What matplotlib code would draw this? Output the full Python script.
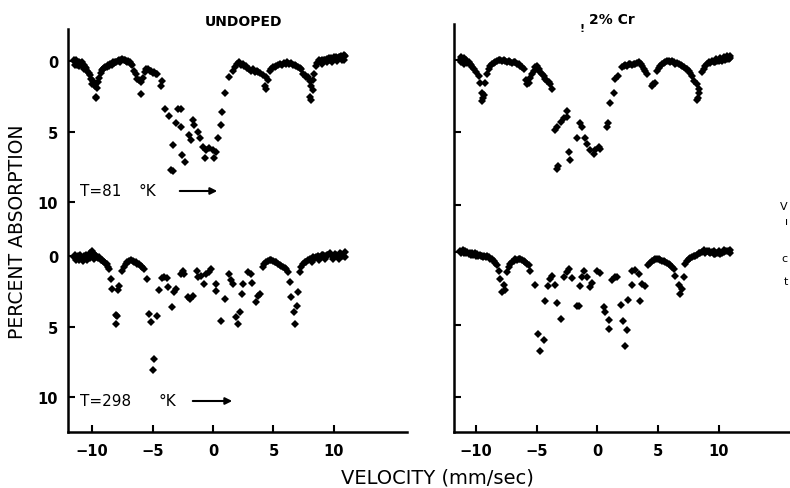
import matplotlib
matplotlib.use("Agg")
from matplotlib import pyplot as plt

# Mossbauer spectra (velocity mm/sec, percent absorption)
# undoped, T=81 K
tl_vel = [-11.5, -11.45, -11.4, -11.3, -11.25, -11.2, -11.1, -11.05, -11.0, -10.9, -10.85, -10.8, -10.7, -10.65, -10.6, -10.5, -10.4, -10.3,
          -10.2, -10.1, -10.0, -9.9, -9.8, -9.72, -9.66, -9.6, -9.5, -9.4, -9.3, -9.2, -9.1,
          -9.0, -8.9, -8.8, -8.7, -8.6, -8.5, -8.4, -8.3, -8.2, -8.1, -8.0, -7.9, -7.8, -7.7, -7.6, -7.5, -7.4, -7.3, -7.2, -7.1, -7.0, -6.9, -6.8, -6.7,
          -6.52, -6.4, -6.27, -6.1, -5.94, -6.0, -5.8, -5.65, -5.53, -5.4, -5.25, -5.11, -4.98, -4.86, -4.75, -4.61, -4.2, -4.28,
          -3.98, -3.67, -2.87, -2.65, -3.06, -2.65, -1.96, -1.82, -1.63, -1.54, -1.21, -1.07, -3.34, -2.56, -2.29, -3.48, -3.34,
          -0.85, -0.57, -0.3, -0.02, 0.26, -0.63, 0.12, 0.39, 0.67, 0.76, 1.03, 1.36,
          1.64, 1.8, 1.95, 2.13, 2.3, 2.47, 2.6, 2.74, 2.85, 3.0, 3.16, 3.3, 3.44, 3.6, 3.71, 3.9, 4.1, 4.4, 4.53, 4.27, 4.4,
          4.68, 4.82, 4.96, 5.1, 5.24, 5.4, 5.55, 5.7, 5.85, 6.0, 6.15, 6.3, 6.45, 6.6, 6.75, 6.9, 7.05, 7.18, 7.3, 7.45, 7.6, 7.72,
          7.86, 8.0, 8.13, 8.27, 8.0, 8.13, 8.27, 8.35, 8.49, 8.62, 8.76,
          8.9, 9.0, 9.05, 9.1, 9.2, 9.3, 9.4, 9.45, 9.5, 9.6, 9.7, 9.8, 9.85, 9.9, 10.0, 10.1, 10.2, 10.25, 10.3, 10.4, 10.5, 10.6, 10.65, 10.7, 10.8, 10.85, 10.9]
tl_abs = [-0.1, 0.25, 0.1, -0.05, 0.3, 0.2, 0.1, 0.35, 0.3, 0.15, 0.1, 0.35, 0.25, 0.55, 0.45, 0.5, 0.7, 0.85,
          1.0, 1.3, 1.6, 1.45, 1.75, 2.55, 2.65, 1.9, 1.5, 1.2, 0.85, 0.65, 0.55,
          0.5, 0.4, 0.45, 0.3, 0.35, 0.2, 0.25, 0.1, 0.15, 0.05, 0.1, 0.0, -0.05, 0.05, -0.1, -0.15, -0.05, -0.1, 0.0, 0.05, 0.0, 0.1, 0.2, 0.25,
          0.7, 0.95, 1.27, 1.35, 1.5, 2.37, 1.2, 0.75, 0.56, 0.6, 0.7, 0.72, 0.85, 0.77, 0.95, 0.92, 1.41, 1.76,
          3.38, 3.9, 3.38, 3.43, 4.37, 4.67, 5.26, 5.61, 4.2, 4.56, 5.02, 5.49, 5.96, 6.67, 7.14, 7.72, 7.8,
          6.08, 6.32, 6.2, 6.32, 6.43, 6.9, 6.85, 5.44, 4.56, 3.61, 2.25, 1.15,
          0.68, 0.4, 0.2, 0.09, 0.25, 0.21, 0.35, 0.33, 0.5, 0.55, 0.68, 0.6, 0.75, 0.7, 0.77, 0.85, 1.0, 1.15, 1.38, 1.74, 1.97,
          0.68, 0.55, 0.45, 0.4, 0.35, 0.3, 0.2, 0.25, 0.15, 0.2, 0.1, 0.2, 0.15, 0.25, 0.3, 0.35, 0.4, 0.5, 0.6, 0.9, 1.0, 1.1,
          1.15, 1.4, 1.79, 2.09, 2.56, 2.79, 1.38, 0.92, 0.33, 0.15, -0.05,
          0.0, -0.1, 0.2, 0.05, -0.1, -0.05, -0.15, 0.1, -0.1, -0.2, -0.1, -0.2, 0.05, -0.15, -0.25, -0.15, -0.3, 0.0, -0.2, -0.3, -0.25, -0.35, -0.05, -0.3, -0.4, -0.1, -0.35]

# undoped, T=298 K
bl_vel = [-11.5, -11.4, -11.35, -11.3, -11.2, -11.1, -11.05, -11.0, -10.9, -10.8, -10.75, -10.7, -10.6, -10.5, -10.45, -10.4, -10.3, -10.2, -10.15, -10.1, -10.0, -9.9, -9.85, -9.8, -9.7, -9.6, -9.5, -9.4, -9.3, -9.2, -9.1, -9.0, -8.9, -8.8, -8.7, -8.6,
          -8.46, -8.32, -7.77, -7.9, -8.05, -7.95, -8.0,
          -7.5, -7.36, -7.2, -7.08, -6.95, -6.8, -6.65, -6.53, -6.4, -6.25, -6.1, -5.97, -5.85, -5.7, -5.5,
          -5.28, -4.67, -5.14, -4.86, -4.95, -4.45, -4.23, -4.03, -3.84, -3.7, -3.43, -3.2, -3.07, -2.65, -2.51, -2.38, -2.1, -1.9, -1.63,
          -1.32, -1.27, -0.99, -0.71, -0.58, -0.3, -0.16, 0.26, 0.26, 0.62, 0.95, 1.31, 1.5, 1.64, 1.91, 2.05, 2.25, 2.41, 2.52, 2.88, 3.16, 3.24, 3.52, 3.71, 3.85,
          4.13, 4.25, 4.4, 4.55, 4.68, 4.82, 4.96, 5.1, 5.24, 5.38, 5.51, 5.65, 5.79, 5.93, 6.07, 6.2,
          6.34, 6.43, 6.68, 6.76, 7.04, 6.98, 7.17,
          7.31, 7.45, 7.59, 7.7, 7.85, 8.0, 8.15, 8.2, 8.3, 8.45, 8.55, 8.7, 8.8, 8.85, 9.0, 9.1, 9.25, 9.3, 9.4, 9.5, 9.66, 9.8, 9.9, 9.95, 10.1, 10.21, 10.35, 10.4, 10.5, 10.63, 10.75, 10.9, 10.9]
bl_abs = [0.1, -0.1, 0.3, 0.15, 0.0, 0.2, 0.25, -0.05, 0.1, 0.2, 0.35, 0.0, 0.15, -0.1, 0.3, 0.05, 0.1, -0.2, 0.15, -0.1, -0.35, -0.2, 0.2, -0.1, 0.0, 0.05, 0.15, 0.1, 0.25, 0.3, 0.35, 0.4, 0.5, 0.6, 0.75, 0.9,
          1.6, 2.34, 2.1, 2.4, 4.2, 4.25, 4.82,
          1.04, 0.8, 0.6, 0.45, 0.35, 0.3, 0.35, 0.4, 0.45, 0.55, 0.6, 0.7, 0.8, 0.95, 1.65,
          4.11, 4.23, 4.7, 7.31, 8.09, 2.39, 1.58, 1.51, 1.58, 2.17, 3.64, 2.58, 2.34, 1.28, 1.04, 1.28, 2.93, 3.05, 2.81,
          1.04, 1.51, 1.4, 1.99, 1.28, 1.16, 0.92, 1.99, 2.46, 4.63, 3.05, 1.28, 1.7, 1.99, 4.3, 4.82, 4.0, 2.7, 1.99, 1.16, 1.28, 1.94, 3.29, 2.81, 2.7,
          0.8, 0.6, 0.45, 0.35, 0.28, 0.3, 0.35, 0.4, 0.45, 0.55, 0.61, 0.7, 0.8, 0.85, 0.95, 1.15,
          1.87, 2.93, 4.0, 4.82, 2.58, 3.53, 1.16,
          0.8, 0.6, 0.45, 0.4, 0.3, 0.21, 0.2, 0.4, 0.1, 0.15, 0.05, 0.0, 0.3, 0.05, -0.05, -0.1, 0.0, 0.2, -0.1, -0.05, -0.2, -0.1, 0.2, 0.0, -0.15, -0.1, 0.05, 0.2, -0.2, -0.15, 0.0, -0.25, 0.1]

# 1.2% Cr, T=81 K
tr_vel = [-11.3, -11.25, -11.2, -11.1, -11.0, -10.95, -10.9, -10.8, -10.7, -10.6, -10.5, -10.4, -10.3, -10.15, -10.0,
          -9.77, -9.63, -9.5, -9.5, -9.4, -9.36, -9.22, -9.09, -8.95,
          -8.8, -8.67, -8.5, -8.39, -8.25, -8.1, -7.98, -7.85, -7.7, -7.57, -7.45, -7.3, -7.16, -7.0, -6.88, -6.75, -6.6, -6.45, -6.34, -6.2, -6.06,
          -5.9, -5.79, -5.65, -5.52, -5.4, -5.24, -5.1, -4.97, -4.83, -4.69, -4.55, -4.42, -4.3, -4.15, -4.0, -3.87, -3.73,
          -3.46, -3.32, -2.96, -2.77, -2.5, -2.5, -1.4, -1.26, -1.67, -0.99, -0.85, -0.57, -0.3, -0.16, 0.11, 0.25, -2.36, -2.22, -3.32, -3.24,
          0.79, 0.88, 1.07, 1.34, 1.48, 1.7, 2.02,
          2.15, 2.3, 2.45, 2.58, 2.71, 2.85, 3.0, 3.13, 3.27, 3.4, 3.55, 3.68, 3.82, 3.95, 4.09, 4.5, 4.6, 4.72,
          4.91, 5.05, 5.19, 5.32, 5.46, 5.6, 5.73, 5.87, 6.0, 6.14, 6.28, 6.42, 6.56, 6.7, 6.84, 6.97, 7.11, 7.25, 7.38, 7.52, 7.65, 7.79, 7.93,
          8.2, 8.39, 8.34, 8.2, 8.25, 8.61, 8.75, 8.89,
          9.0, 9.16, 9.3, 9.45, 9.6, 9.71, 9.85, 10.0, 10.13, 10.26, 10.4, 10.53, 10.67, 10.8, 10.94, 10.94, 10.7, 10.4, 10.1, 9.8]
tr_abs = [0.0, 0.15, -0.2, -0.05, -0.15, 0.25, 0.05, 0.0, 0.2, 0.15, 0.3, 0.35, 0.5, 0.65, 0.8,
          1.1, 1.56, 2.26, 2.84, 2.6, 2.4, 1.56, 0.98, 0.63,
          0.4, 0.28, 0.2, 0.12, 0.05, 0.0, -0.02, 0.1, 0.0, 0.05, 0.15, 0.1, 0.12, 0.2, 0.15, 0.16, 0.25, 0.3, 0.4, 0.5, 0.63,
          1.4, 1.68, 1.56, 1.21, 0.95, 0.75, 0.5, 0.4, 0.65, 0.86, 0.95, 1.1, 1.3, 1.44, 1.55, 1.68, 2.03,
          4.83, 4.6, 4.25, 4.02, 3.55, 3.9, 4.36, 4.6, 5.41, 5.41, 5.76, 6.23, 6.46, 6.23, 6.0, 6.11, 6.34, 6.93, 7.51, 7.28,
          4.6, 4.36, 2.96, 2.26, 1.33, 1.1, 0.51,
          0.45, 0.35, 0.4, 0.3, 0.28, 0.35, 0.3, 0.28, 0.2, 0.16, 0.3, 0.44, 0.6, 0.75, 0.98, 1.79, 1.65, 1.56,
          0.75, 0.55, 0.4, 0.3, 0.2, 0.12, 0.1, 0.05, 0.15, 0.1, 0.16, 0.25, 0.2, 0.28, 0.35, 0.4, 0.51, 0.6, 0.65, 0.75, 0.9, 1.1, 1.44,
          1.68, 2.03, 2.26, 2.73, 2.6, 0.86, 0.6, 0.4,
          0.25, 0.16, 0.2, 0.1, 0.15, 0.12, 0.05, 0.1, 0.0, 0.05, -0.05, 0.0, -0.07, -0.1, -0.12, -0.3, -0.25, -0.2, -0.15, -0.1]

# 1.2% Cr, T=298 K
br_vel = [-11.3, -11.2, -11.1, -11.0, -10.9, -10.8, -10.7, -10.6, -10.5, -10.4, -10.3, -10.2, -10.1, -10.0, -9.9, -9.8, -9.7, -9.6, -9.5, -9.4, -9.3, -9.2, -9.1, -8.95, -8.8, -8.65, -8.53, -8.4, -8.26, -8.12,
          -7.98, -7.71, -7.84, -7.57, -7.43,
          -7.3, -7.16, -7.03, -6.89, -6.75, -6.6, -6.47, -6.33, -6.2, -6.06, -5.93, -5.79, -5.65, -5.52,
          -5.1, -4.28, -4.06, -3.87, -3.73, -3.46, -3.32, -2.96, -4.88, -4.42, -4.69, -2.77, -2.5, -2.36, -2.09, -1.67, -1.48, -1.4, -1.26, -1.12,
          -0.85, -0.57, -0.44, -0.03, 0.25, 0.52, 0.61, 0.98, 0.93, 1.2, 1.48, 1.61, 1.94, 2.1, 2.44, 2.3, 2.5, 2.83, 2.83, 3.13, 3.4, 3.68, 3.9, 3.54,
          4.17, 4.3, 4.5, 4.65, 4.78, 4.91, 5.05, 5.19, 5.33, 5.46, 5.6, 5.73, 5.87, 6.0, 6.14, 6.28, 6.42,
          6.7, 6.83, 6.97, 7.1, 7.24,
          7.38, 7.52, 7.65, 7.8, 7.93, 8.07, 8.2, 8.34, 8.47, 8.61, 8.75, 8.8, 8.89, 9.02, 9.16, 9.2, 9.3, 9.43, 9.57, 9.6, 9.71, 9.85, 9.98, 10.0, 10.12, 10.26, 10.4, 10.4, 10.53, 10.67, 10.8, 10.94, 10.94]
br_abs = [-0.1, 0.1, -0.15, 0.05, -0.1, 0.1, 0.0, 0.15, 0.05, 0.2, 0.1, 0.2, 0.1, 0.25, 0.15, 0.3, 0.2, 0.3, 0.25, 0.35, 0.3, 0.35, 0.3, 0.37, 0.45, 0.5, 0.59, 0.75, 0.93, 1.28,
          1.85, 2.3, 2.76, 2.64, 1.39,
          1.0, 0.82, 0.7, 0.59, 0.5, 0.55, 0.48, 0.5, 0.55, 0.59, 0.7, 0.8, 0.93, 1.28,
          2.3, 3.37, 2.37, 1.85, 1.62, 2.3, 3.51, 4.65, 5.62, 6.07, 6.8, 1.69, 1.39, 1.16, 1.8, 3.72, 3.72, 2.37, 1.69, 1.28,
          1.73, 2.41, 2.14, 1.28, 1.46, 3.78, 4.13, 4.7, 5.33, 1.96, 1.73, 1.69, 3.67, 4.77, 5.39, 6.46, 3.28, 2.3, 1.28, 1.23, 1.5, 2.19, 2.37, 3.37,
          0.93, 0.75, 0.59, 0.55, 0.5, 0.48, 0.5, 0.55, 0.59, 0.65, 0.7, 0.75, 0.82, 0.9, 1.0, 1.16, 1.62,
          2.3, 2.87, 2.53, 1.73, 0.82,
          0.6, 0.48, 0.4, 0.35, 0.3, 0.25, 0.2, 0.1, 0.05, 0.02, -0.05, -0.15, 0.05, -0.1, 0.02, -0.1, 0.1, 0.0, 0.15, -0.05, 0.14, 0.05, 0.1, -0.05, 0.15, 0.09, 0.0, -0.15, -0.05, -0.05, -0.1, -0.14, 0.05]

x_ticks = [-10, -5, 0, 5, 10]
y_tick_labels = ["0", "5", "10", "0", "5", "10"]

W, H = 790, 489
fig = plt.figure(figsize=(W / 100, H / 100), dpi=100)
fig.patch.set_facecolor("white")

# one axes per column, the 81 K spectrum is shifted up by an offset
ax1 = fig.add_axes([68 / W, 1 - 433 / H, 339 / W, 403 / H])
ax2 = fig.add_axes([454 / W, 1 - 433 / H, 350 / W, 408 / H])

off1 = 13.83
off2 = 13.24

for ax, off, ylim, top_v, top_a, bot_v, bot_a in [
        (ax1, off1, (12.48, -16.1), tl_vel, tl_abs, bl_vel, bl_abs),
        (ax2, off2, (12.41, -15.72), tr_vel, tr_abs, br_vel, br_abs)]:
    ax.plot(top_v, [a - off for a in top_a], "D", color="black", ms=3.7, mew=0)
    ax.plot(bot_v, bot_a, "D", color="black", ms=3.7, mew=0)
    ax.set_ylim(*ylim)
    ax.set_yticks([-off, 5 - off, 10 - off, 0, 5, 10])
    ax.set_xticks(x_ticks)
    for s in ["top", "right"]:
        ax.spines[s].set_visible(False)
    for s in ["left", "bottom"]:
        ax.spines[s].set_linewidth(1.8)
    ax.tick_params(direction="in", length=5, width=1.5, labelsize=10.5)
    ax.tick_params(axis="x", pad=8)
    for lab in ax.get_xticklabels():
        lab.set_fontweight("bold")

ax1.set_xlim(-12.0, 16.05)
ax2.set_xlim(-11.8, 17.0)
ax1.set_yticklabels(y_tick_labels, fontweight="bold")
ax1.tick_params(axis="y", pad=7)
ax2.set_yticklabels([])

fig.text(244 / W, 1 - 22 / H, "UNDOPED", ha="center", va="center", fontsize=10, fontweight="bold")
fig.text(612 / W, 1 - 20 / H, "2% Cr", ha="center", va="center", fontsize=10, fontweight="bold")
fig.text(582 / W, 1 - 29 / H, "!", ha="center", va="center", fontsize=8, fontweight="bold")

fig.text(18 / W, 1 - 232 / H, "PERCENT ABSORPTION", rotation=90, ha="center", va="center", fontsize=13.5)
fig.text(437 / W, 1 - 478 / H, "VELOCITY (mm/sec)", ha="center", va="center", fontsize=14)

# temperature labels with arrows
for label, y, kx, a0, a1 in [("T=81", 192, 138, 177, 220), ("T=298", 402, 158, 190, 235)]:
    fig.text(80 / W, 1 - y / H, label, ha="left", va="center", fontsize=11)
    fig.text(kx / W, 1 - y / H, "°K", ha="left", va="center", fontsize=11)
    fig.add_artist(plt.Annotation("", xy=(a1 / W, 1 - y / H), xytext=(a0 / W, 1 - y / H),
                                  xycoords="figure fraction",
                                  arrowprops=dict(arrowstyle="-|>", lw=1.5, color="black", mutation_scale=10)))

# fragments of the neighbouring column at the right edge
for ch, y in [("V", 207), ("ı", 222), ("c", 259), ("t", 282)]:
    fig.text(788 / W, 1 - y / H, ch, ha="right", va="center", fontsize=8)

fig.savefig("out.png", dpi=100)
